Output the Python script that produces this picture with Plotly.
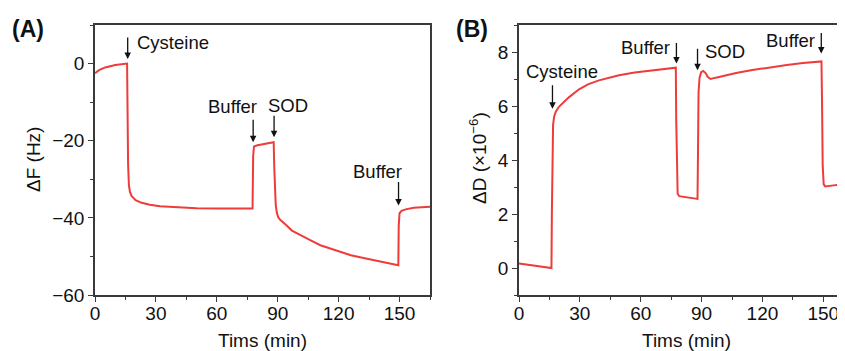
import plotly.graph_objects as go

# ---- Data ----
t_A = [0, 2, 5, 10, 15.8, 16.0, 16.3, 16.7, 17.2, 18, 20, 23, 27, 32, 40, 50, 60, 70, 77.6,
       77.9, 78.3, 80, 84, 88.0, 88.3, 88.6, 89, 89.5, 90.2, 91.2, 92.5, 94, 97, 101, 106, 111,
       118, 126, 134, 142, 149.4, 149.6, 150, 151, 153, 157, 161, 165]
dF = [-2.5, -1.7, -1.0, -0.4, 0, -12, -26, -31.5, -33.2, -34.3, -35.4, -36.1, -36.6, -37.0,
      -37.3, -37.5, -37.6, -37.6, -37.6, -24, -21.5, -21.2, -20.8, -20.4, -27, -34, -36.5,
      -38.5, -39.8, -40.5, -41, -41.8, -43.3, -44.5, -45.8, -47.1, -48.4, -49.7, -50.6, -51.5,
      -52.3, -42, -38.8, -38.2, -37.8, -37.4, -37.2, -37.1]

t_B = [0, 16.0, 16.2, 16.5, 16.8, 17.3, 18.2, 19.8, 22, 24.7, 29.6, 34, 39.4, 49.3, 57, 65.7,
       72, 77.3, 77.5, 77.8, 78.2, 79, 82, 85, 88.0, 88.2, 88.5, 89, 89.8, 90.8, 92, 93, 94.4,
       97, 101, 107, 115, 123.6, 132, 140, 145, 149.1, 149.4, 149.7, 150.2, 151, 155, 161]
dD = [0.17, 0.0, 2.0, 4.8, 5.3, 5.6, 5.8, 5.98, 6.15, 6.33, 6.62, 6.8, 6.95, 7.14, 7.24, 7.32,
      7.37, 7.42, 5.5, 3.2, 2.75, 2.66, 2.62, 2.59, 2.56, 4.0, 6.5, 7.05, 7.25, 7.3, 7.22, 7.08,
      7.0, 7.05, 7.12, 7.22, 7.33, 7.44, 7.52, 7.59, 7.62, 7.65, 6.0, 3.8, 3.1, 3.02, 3.06, 3.12]

x_ticks = [0, 30, 60, 90, 120, 150]
yA_ticks = [-60, -40, -20, 0]
yB_ticks = [0, 2, 4, 6, 8]

# events: (label, time, arrow-tip value)
events_A = [("Cysteine", 16.1, 1.2), ("Buffer", 77.9, -20.4), ("SOD", 88.2, -19.1), ("Buffer", 149.5, -36.8)]
events_B = [("Cysteine", 16.5, 5.9), ("Buffer", 77.6, 7.57), ("SOD", 88.0, 7.32), ("Buffer", 149.0, 7.94)]

FONT = "Arial, Liberation Sans, sans-serif"
FS = 19      # ticks and axis titles
FE = 18.5    # event labels
RED = "#ee3b3b"
AX = "#3a3a3a"

# page body has an 8px margin: shift the whole layout by -8px
OFF = 8
L, T, PW, PH = 95 - OFF, 25 - OFF, 750, 270
W, H = 845 - OFF, 351 - OFF

fig = go.Figure()
fig.add_trace(go.Scatter(x=t_A, y=dF, mode="lines", line=dict(color=RED, width=2),
                         xaxis="x", yaxis="y", showlegend=False))
fig.add_trace(go.Scatter(x=t_B, y=dD, mode="lines", line=dict(color=RED, width=2),
                         xaxis="x2", yaxis="y2", showlegend=False))

common_axis = dict(showgrid=False, zeroline=False, showline=True, linecolor=AX, linewidth=1.5,
                   ticks="outside", ticklen=5, tickwidth=1.2, tickcolor=AX,
                   tickfont=dict(family=FONT, size=FS, color="#111"))
x_extra = dict(ticklabelstandoff=-5)

fig.update_layout(
    width=W, height=H,
    margin=dict(l=L, r=W - L - PW, t=T, b=H - T - PH),
    plot_bgcolor="white", paper_bgcolor="white",
    xaxis=dict(domain=[0, 335 / 750], range=[0, 165], tickvals=x_ticks, mirror=True,
               minor=dict(dtick=15, tick0=0, ticklen=3, ticks="outside", tickcolor=AX), anchor="y",
               **common_axis, **x_extra),
    yaxis=dict(range=[-60, 10], tickvals=yA_ticks, mirror=True, anchor="x",
               minor=dict(dtick=10, tick0=0, ticklen=3, ticks="outside", tickcolor=AX),
               **common_axis),
    xaxis2=dict(domain=[424 / 750, 1.0], range=[0, 160.7], tickvals=x_ticks, mirror=True,
                minor=dict(dtick=15, tick0=0, ticklen=3, ticks="outside", tickcolor=AX), anchor="y2",
                **common_axis, **x_extra),
    yaxis2=dict(range=[-1, 9], tickvals=yB_ticks, mirror=False, anchor="x2",
                minor=dict(dtick=1, tick0=0, ticklen=3, ticks="outside", tickcolor=AX),
                **common_axis),
)

ann = []
def label(text, x, y, xref="paper", yref="paper", size=FS, bold=False, angle=0, xanchor="center"):
    ann.append(dict(text=f"<b>{text}</b>" if bold else text, x=x, y=y, xref=xref, yref=yref,
                    showarrow=False, textangle=angle, xanchor=xanchor, yanchor="middle",
                    font=dict(family=FONT, size=size, color="#111")))

# reference pixel -> paper coords
def px2paper_x(px):
    return (px - 95) / PW

def px2paper_y(py):
    return (295 - py) / PH

# panel labels
label("(A)", px2paper_x(28), px2paper_y(29), size=23, bold=True)
label("(B)", px2paper_x(472), px2paper_y(29), size=23, bold=True)
# axis titles
label("Tims (min)", 82.5, px2paper_y(340), xref="x")
label("Tims (min)", 82.5, px2paper_y(340), xref="x2")
label("ΔF (Hz)", px2paper_x(33), 0.5, angle=-90)
label("ΔD (×10<sup>−6</sup>)", px2paper_x(478), px2paper_y(158), angle=-90)

# arrows
def arrow(x, y, xref, yref, length):
    ann.append(dict(text="", x=x, y=y, xref=xref, yref=yref, showarrow=True, ax=0, ay=-length,
                    arrowhead=2, arrowsize=1, arrowwidth=1.3, arrowcolor="#111", standoff=0))

arrow_len_A = [23, 24, 23, 25]
arrow_len_B = [25, 22, 23, 22]
for (name, t, v), Lr in zip(events_A, arrow_len_A):
    arrow(t, v, "x", "y", Lr)
for (name, t, v), Lr in zip(events_B, arrow_len_B):
    arrow(t, v, "x2", "y2", Lr)

# event texts (pixel positions of the reference labels)
label(events_A[0][0], px2paper_x(135), px2paper_y(42), size=FE, xanchor="left")
label(events_A[1][0], px2paper_x(232), px2paper_y(106), size=FE)
label(events_A[2][0], px2paper_x(288), px2paper_y(105), size=FE)
label(events_A[3][0], px2paper_x(377), px2paper_y(171), size=FE)
label(events_B[0][0], px2paper_x(562), px2paper_y(71), size=FE)
label(events_B[1][0], px2paper_x(645), px2paper_y(48), size=FE)
label(events_B[2][0], px2paper_x(703), px2paper_y(52), size=FE, xanchor="left")
label(events_B[3][0], px2paper_x(790), px2paper_y(40), size=FE)

fig.update_layout(annotations=ann)
fig.write_html("out.html")
